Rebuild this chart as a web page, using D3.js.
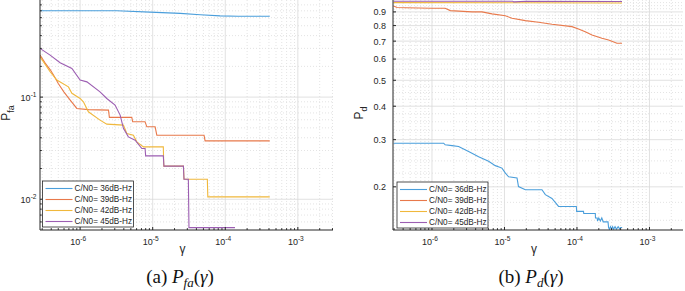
<!DOCTYPE html>
<html lang="en">
<head>
<meta charset="UTF-8">
<title>Pfa and Pd versus gamma</title>
<script src="https://d3js.org/d3.v7.min.js"></script>
<style>
    body { margin: 0; background: #fff; }
    svg { display: block; font-family: "Liberation Sans", Arial, sans-serif; }
    .grid-major { stroke: #d9d9d9; stroke-width: 0.8; }
    .grid-minor { stroke: #dcdcdc; stroke-width: 0.8; stroke-dasharray: 1,2; }
    .axis-line { stroke: #262626; stroke-width: 1; }
    .tick-label { fill: #262626; font-size: 9px; }
    .series { fill: none; stroke-width: 1.1; }
    .caption { font-family: "Liberation Serif", "DejaVu Serif", serif; font-size: 19px; fill: #111; }
</style>
</head>
<body>
<svg id="chart" width="685" height="291"></svg>
<script>
// legend / colours
const seriesNames = ["C/N0= 36dB-Hz", "C/N0= 39dB-Hz", "C/N0= 42dB-Hz", "C/N0= 45dB-Hz"];
const colors = ["#4a9edb", "#e8794b", "#f0b83c", "#9c5eb2"];

// tick values
const xTickExps = [-6, -5, -4, -3];
const pfaTickExps = [-2, -1];
const pdTicks = [0.2, 0.3, 0.4, 0.5, 0.6, 0.7, 0.8, 0.9];

// P_fa(gamma): [gamma, Pfa]
const pfa36 = [[2.8e-7,0.70],[3.2e-6,0.70],[9.2e-6,0.68],[2.4e-5,0.66],[4.5e-5,0.64],[8.5e-5,0.625],[1.5e-4,0.62],[4.1e-4,0.62]];
const pfa39 = [[2.8e-7,0.258],[3.3e-7,0.215],[3.9e-7,0.184],[4.4e-7,0.16],[5.0e-7,0.136],[6.0e-7,0.112],[7.3e-7,0.0935],[9.0e-7,0.0775],[1.3e-6,0.0755],[2.46e-6,0.0746],
    [2.53e-6,0.0633],[5.15e-6,0.0633],[5.3e-6,0.0573],[7.85e-6,0.0573],[8.3e-6,0.0512],[1.08e-5,0.0512],[1.14e-5,0.0424],[5.1e-5,0.0424],[5.27e-5,0.0373],[4.1e-4,0.0373]];
const pfa42 = [[2.8e-7,0.248],[3.86e-7,0.177],[4.78e-7,0.147],[6.9e-7,0.126],[7.7e-7,0.109],[1.0e-6,0.097],[1.11e-6,0.090],[1.3e-6,0.0718],[1.88e-6,0.0595],[2.33e-6,0.0544],
    [3.95e-6,0.0532],[4.4e-6,0.044],[5.42e-6,0.0424],[6.04e-6,0.0365],[7.45e-6,0.0326],[1.4e-5,0.0326],[1.42e-5,0.0211],[2.65e-5,0.0211],[2.7e-5,0.0157],[5.66e-5,0.0157],
    [5.75e-5,0.01054],[4.1e-4,0.01054]];
const pfa45 = [[2.8e-7,0.30],[3.86e-7,0.258],[5.3e-7,0.217],[7.7e-7,0.191],[1.0e-6,0.147],[1.24e-6,0.141],[1.88e-6,0.1127],[2.33e-6,0.097],[3.03e-6,0.0835],[3.56e-6,0.0667],
    [3.95e-6,0.0494],[4.62e-6,0.0408],[5.73e-6,0.0378],[7.08e-6,0.0314],[7.85e-6,0.0314],[8.0e-6,0.0266],[1.4e-5,0.0266],[1.43e-5,0.0211],[2.65e-5,0.0211],[2.7e-5,0.0157],
    [3.1e-5,0.0157],[3.16e-5,0.00528],[1.36e-4,0.00528]];

// P_d(gamma): [gamma, Pd]
const pd36 = [[2.95e-7,0.291],[1.45e-6,0.291],[1.52e-6,0.287],[1.89e-6,0.285],[2.33e-6,0.283],[3.2e-6,0.271],[4.4e-6,0.259],[6.04e-6,0.249],[7.47e-6,0.240],[9.24e-6,0.235],
    [1.03e-5,0.225],[1.14e-5,0.218],[1.49e-5,0.216],[1.56e-5,0.2005],[1.94e-5,0.195],[3.29e-5,0.195],[3.66e-5,0.187],[4.52e-5,0.181],[5.57e-5,0.169],[9.8e-5,0.169],
    [9.9e-5,0.162],[1.23e-4,0.162],[1.24e-4,0.159],[1.79e-4,0.159],[1.8e-4,0.153],[1.9e-4,0.153],[1.92e-4,0.149],[2.0e-4,0.153],[2.1e-4,0.149],[2.2e-4,0.153],
    [2.3e-4,0.148],[2.68e-4,0.148],[2.73e-4,0.141],[2.8e-4,0.139],[2.9e-4,0.142],[3.0e-4,0.139],[3.1e-4,0.142],[3.2e-4,0.139],[3.35e-4,0.142],[3.5e-4,0.139],
    [3.7e-4,0.142],[3.9e-4,0.139],[4.0e-4,0.141],[4.2e-4,0.141]];
const pd39 = [[2.95e-7,0.947],[3.3e-7,0.935],[4.3e-7,0.933],[1.0e-6,0.929],[1.52e-6,0.929],[1.79e-6,0.91],[3.57e-6,0.90],[4.9e-6,0.90],[6.73e-6,0.885],[1.03e-5,0.871],
    [1.27e-5,0.852],[1.94e-5,0.835],[2.95e-5,0.823],[4.52e-5,0.809],[8.53e-5,0.793],[1.05e-4,0.777],[1.3e-4,0.759],[1.61e-4,0.738],[2.21e-4,0.718],[2.73e-4,0.707],
    [3.56e-4,0.687],[4.18e-4,0.687]];
const pd42 = [[2.95e-7,0.975],[1.0e-5,0.974],[4.18e-4,0.972]];
const pd45 = [[2.95e-7,0.986],[1.3e-5,0.986],[1.35e-5,0.981],[2.0e-5,0.986],[4.18e-4,0.984]];

const svg = d3.select("#chart");

function sup(sel, base, exp, anchor) {
    sel.attr("text-anchor", anchor).text(base);
    sel.append("tspan").attr("font-size", "6.6px").attr("dy", -4).text(exp);
}

function drawPanel(p) {
    const x = d3.scaleLog().domain(p.xDomain).range([p.left, p.right]);
    const y = d3.scaleLog().domain(p.yDomain).range([p.bottom, p.top]);
    const g = svg.append("g");

    const clipId = "clip-" + p.id;
    g.append("clipPath").attr("id", clipId).append("rect")
        .attr("x", p.left).attr("y", p.top)
        .attr("width", p.right - p.left).attr("height", p.bottom - p.top);

    // x grid
    const xMinor = [];
    for (let k = -7; k <= -3; k++) for (let m = 2; m <= 9; m++) {
        const v = m * Math.pow(10, k);
        if (v > p.xDomain[0] && v < p.xDomain[1]) xMinor.push(v);
    }
    const xMajor = xTickExps.map(e => Math.pow(10, e));
    g.selectAll(".xmin").data(xMinor).enter().append("line")
        .attr("class", "grid-minor")
        .attr("x1", d => x(d)).attr("x2", d => x(d))
        .attr("y1", p.top).attr("y2", p.bottom);
    g.selectAll(".xmaj").data(xMajor).enter().append("line")
        .attr("class", "grid-major")
        .attr("x1", d => x(d)).attr("x2", d => x(d))
        .attr("y1", p.top).attr("y2", p.bottom);

    // y grid
    g.selectAll(".ymin").data(p.yMinor).enter().append("line")
        .attr("class", "grid-minor")
        .attr("x1", p.left).attr("x2", p.right)
        .attr("y1", d => y(d)).attr("y2", d => y(d));
    g.selectAll(".ymaj").data(p.yMajor).enter().append("line")
        .attr("class", "grid-major")
        .attr("x1", p.left).attr("x2", p.right)
        .attr("y1", d => y(d)).attr("y2", d => y(d));

    // curves
    const line = d3.line().x(d => x(d[0])).y(d => y(d[1]));
    g.append("g").attr("clip-path", `url(#${clipId})`)
        .selectAll("path").data(p.series).enter().append("path")
        .attr("class", "series")
        .attr("stroke", (d, i) => colors[i])
        .attr("d", d => line(d));

    // axes lines + inward ticks
    g.append("line").attr("class", "axis-line")
        .attr("x1", p.left).attr("x2", p.right).attr("y1", p.bottom).attr("y2", p.bottom);
    g.append("line").attr("class", "axis-line")
        .attr("x1", p.left).attr("x2", p.left).attr("y1", p.top).attr("y2", p.bottom);

    g.selectAll(".xt").data(xMajor).enter().append("line").attr("class", "axis-line")
        .attr("x1", d => x(d)).attr("x2", d => x(d)).attr("y1", p.bottom).attr("y2", p.bottom - 3);
    g.selectAll(".xtm").data(xMinor).enter().append("line").attr("class", "axis-line")
        .attr("stroke-width", 0.7)
        .attr("x1", d => x(d)).attr("x2", d => x(d)).attr("y1", p.bottom).attr("y2", p.bottom - 1.8);
    g.selectAll(".yt").data(p.yMajor).enter().append("line").attr("class", "axis-line")
        .attr("x1", p.left).attr("x2", p.left + 3).attr("y1", d => y(d)).attr("y2", d => y(d));
    if (p.yMinorTicks) {
        g.selectAll(".ytm").data(p.yMinor).enter().append("line").attr("class", "axis-line")
            .attr("stroke-width", 0.7)
            .attr("x1", p.left).attr("x2", p.left + 1.8).attr("y1", d => y(d)).attr("y2", d => y(d));
    }

    // x tick labels
    xTickExps.forEach(e => {
        const t = g.append("text").attr("class", "tick-label")
            .attr("x", x(Math.pow(10, e)) - 2).attr("y", p.bottom + 15);
        sup(t, "10", "-" + Math.abs(e), "middle");
    });

    // y tick labels
    p.yLabels(g, y);

    // axis labels
    g.append("text").attr("x", (p.left + p.right) / 2 - 4).attr("y", p.bottom + 23)
        .attr("text-anchor", "middle").attr("font-size", "12px").attr("fill", "#262626")
        .text("γ");
    const yl = g.append("text")
        .attr("transform", `translate(${p.yLabelX},${(p.top + p.bottom) / 2 - 2}) rotate(-90)`)
        .attr("text-anchor", "middle").attr("font-size", "12px").attr("fill", "#262626")
        .text("P");
    yl.append("tspan").attr("font-size", "9px").attr("dy", 3.5).text(p.ySub);

    // legend
    const lg = g.append("g").attr("transform", `translate(${p.legendX},${p.legendY})`);
    lg.append("rect").attr("width", 91).attr("height", 46)
        .attr("fill", "#fff").attr("stroke", "#262626").attr("stroke-width", 0.8);
    seriesNames.forEach((name, i) => {
        const yy = 7.5 + i * 11;
        lg.append("line").attr("x1", 3).attr("x2", 30).attr("y1", yy).attr("y2", yy)
            .attr("stroke", colors[i]).attr("stroke-width", 1.1);
        lg.append("text").attr("x", 32).attr("y", yy + 2.8)
            .attr("font-size", "8.2px").attr("fill", "#262626").text(name);
    });

    // caption
    const cap = svg.append("text").attr("class", "caption")
        .attr("x", p.captionX).attr("y", 283).attr("text-anchor", "middle");
    cap.append("tspan").text(p.captionTag + " ");
    cap.append("tspan").attr("font-style", "italic").text("P");
    cap.append("tspan").attr("font-style", "italic").attr("font-size", "13px").attr("dy", 4).text(p.ySub);
    cap.append("tspan").attr("dy", -4).text("(");
    cap.append("tspan").attr("font-style", "italic").text("γ");
    cap.append("tspan").text(")");
}

// left panel: P_fa
const pfaMinor = [];
for (let k = -3; k <= -1; k++) for (let m = 2; m <= 9; m++) {
    const v = m * Math.pow(10, k);
    if (v > 0.005 && v < 0.893) pfaMinor.push(v);
}
drawPanel({
    id: "pfa", left: 40, right: 333, top: 0, bottom: 230,
    xDomain: [2.8e-7, 3.05e-3], yDomain: [0.005, 0.893],
    yMajor: pfaTickExps.map(e => Math.pow(10, e)), yMinor: pfaMinor, yMinorTicks: true,
    series: [pfa36, pfa39, pfa42, pfa45],
    yLabels: (g, y) => pfaTickExps.forEach(e => {
        const t = g.append("text").attr("class", "tick-label")
            .attr("x", 36.5).attr("y", y(Math.pow(10, e)) + 3.5);
        sup(t, "10", "-" + Math.abs(e), "end");
    }),
    yLabelX: 10, ySub: "fa",
    legendX: 42.5, legendY: 181,
    captionX: 180, captionTag: "(a)"
});

// right panel: P_d
const pdMinor = d3.range(0.15, 1.0, 0.025).filter(v => Math.abs(v * 10 - Math.round(v * 10)) > 0.01);
drawPanel({
    id: "pd", left: 393, right: 683, top: 0, bottom: 230,
    xDomain: [2.9e-7, 2.9e-3], yDomain: [0.138, 0.997],
    yMajor: pdTicks, yMinor: pdMinor, yMinorTicks: false,
    series: [pd36, pd39, pd42, pd45],
    yLabels: (g, y) => pdTicks.forEach(v => {
        g.append("text").attr("class", "tick-label").attr("font-size", "9.5px")
            .attr("x", 386).attr("y", y(v) + 3.4).attr("text-anchor", "end")
            .text(v.toFixed(1));
    }),
    yLabelX: 363, ySub: "d",
    legendX: 397, legendY: 182,
    captionX: 531, captionTag: "(b)"
});
</script>
</body>
</html>
